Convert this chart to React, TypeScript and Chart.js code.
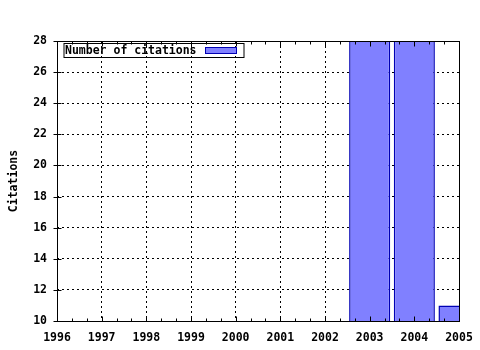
import { useEffect, useRef } from 'react';
import { Chart, registerables } from 'chart.js';
Chart.register(...registerables);

const years = [2003, 2004, 2005];
const citations = [32, 31, 11];
const xMin = 1996;
const xMax = 2005;
const yMin = 10;
const yMax = 28;
const yStep = 2;
const seriesLabel = 'Number of citations';
const yTitle = 'Citations';

const FONT_FAMILY = "'DejaVu Sans Mono', monospace";
const FONT = { family: FONT_FAMILY, size: 11.5, weight: 'bold' as const };
const BAR_FILL = '#8080ff';
const BAR_BORDER = '#0000b4';

const framePlugin = {
  id: 'frame',
  afterDraw(chart: any) {
    const { ctx, chartArea: a, scales } = chart;
    const xs = scales.x;
    const ys = scales.y;
    ctx.save();
    ctx.strokeStyle = '#000';
    ctx.lineWidth = 1;
    ctx.setLineDash([]);
    const L = Math.round(a.left) + 0.5;
    const R = Math.round(a.right) + 0.5;
    const T = Math.round(a.top) + 0.5;
    const B = Math.round(a.bottom) + 0.5;
    ctx.strokeRect(L, T, R - L, B - T);
    ctx.beginPath();
    xs.ticks.forEach((t: any, i: number) => {
      const px = Math.round(xs.getPixelForValue(t.value)) + 0.5;
      ctx.moveTo(px, B); ctx.lineTo(px, B - 5);
      ctx.moveTo(px, T); ctx.lineTo(px, T + 5);
      if (i < xs.ticks.length - 1) {
        for (let k = 1; k < 3; k++) {
          const mx = Math.round(xs.getPixelForValue(t.value + k / 3)) + 0.5;
          ctx.moveTo(mx, B); ctx.lineTo(mx, B - 3);
          ctx.moveTo(mx, T); ctx.lineTo(mx, T + 3);
        }
      }
    });
    ys.ticks.forEach((t: any) => {
      const py = Math.round(ys.getPixelForValue(t.value)) + 0.5;
      ctx.moveTo(L - 4, py); ctx.lineTo(L + 4, py);
    });
    ctx.stroke();

    // legend
    const ds = chart.data.datasets[0];
    ctx.font = `bold ${FONT.size}px ${FONT_FAMILY}`;
    const tw = ctx.measureText(ds.label).width;
    const bx = L + 6.5;
    const by = T + 2;
    const swX = Math.round(bx + 1 + tw + 8) + 0.5;
    const swW = 31;
    const bw = Math.round(swX + swW + 7 - bx);
    const bh = 14;
    ctx.strokeRect(bx, by, bw, bh);
    ctx.fillStyle = '#000';
    ctx.textBaseline = 'middle';
    ctx.textAlign = 'left';
    ctx.fillText(ds.label, bx + 1, by + bh / 2 + 0.5);
    ctx.fillStyle = ds.backgroundColor;
    ctx.fillRect(swX, by + 4, swW, 6);
    ctx.strokeStyle = ds.borderColor;
    ctx.strokeRect(swX, by + 4, swW, 6);
    ctx.restore();
  },
};

export default function App() {
  const ref = useRef<HTMLCanvasElement | null>(null);
  useEffect(() => {
    document.body.style.margin = '0';
    const chart = new Chart(ref.current as HTMLCanvasElement, {
      type: 'bar',
      data: {
        datasets: [
          {
            label: seriesLabel,
            data: years.map((y, i) => ({ x: y, y: citations[i] })),
            backgroundColor: BAR_FILL,
            borderColor: BAR_BORDER,
            borderWidth: 1.5,
            barPercentage: 0.92,
            categoryPercentage: 1,
          },
        ],
      },
      options: {
        animation: false,
        responsive: true,
        maintainAspectRatio: false,
        layout: { padding: { top: 41, right: 21, left: 0, bottom: 0 } },
        plugins: { legend: { display: false }, tooltip: { enabled: false } },
        scales: {
          x: {
            type: 'linear',
            min: xMin,
            max: xMax,
            offset: false,
            afterFit: (s: any) => { s.height = 29; s.paddingLeft = 0; s.paddingRight = 0; },
            ticks: {
              stepSize: 1,
              color: '#000',
              font: FONT,
              padding: 10,
              maxRotation: 0,
              callback: (v: any) => String(v),
            },
            grid: { color: '#000', lineWidth: 1, drawTicks: false, offset: false },
            border: { display: false, dash: [2, 3] },
          },
          y: {
            type: 'linear',
            min: yMin,
            max: yMax,
            afterFit: (s: any) => { s.width = 57; s.paddingTop = 0; s.paddingBottom = 0; },
            ticks: {
              stepSize: yStep,
              color: '#000',
              font: FONT,
              padding: 10,
              callback: (v: any) => String(v),
            },
            title: { display: true, text: yTitle, color: '#000', font: FONT, padding: { top: 7, bottom: 0 } },
            grid: { color: '#000', lineWidth: 1, drawTicks: false },
            border: { display: false, dash: [2, 3] },
          },
        },
      },
      plugins: [framePlugin],
    } as any);
    return () => chart.destroy();
  }, []);
  return (
    <div style={{ position: 'fixed', left: 0, top: 0, width: 480, height: 350 }}>
      <canvas ref={ref} />
    </div>
  );
}
